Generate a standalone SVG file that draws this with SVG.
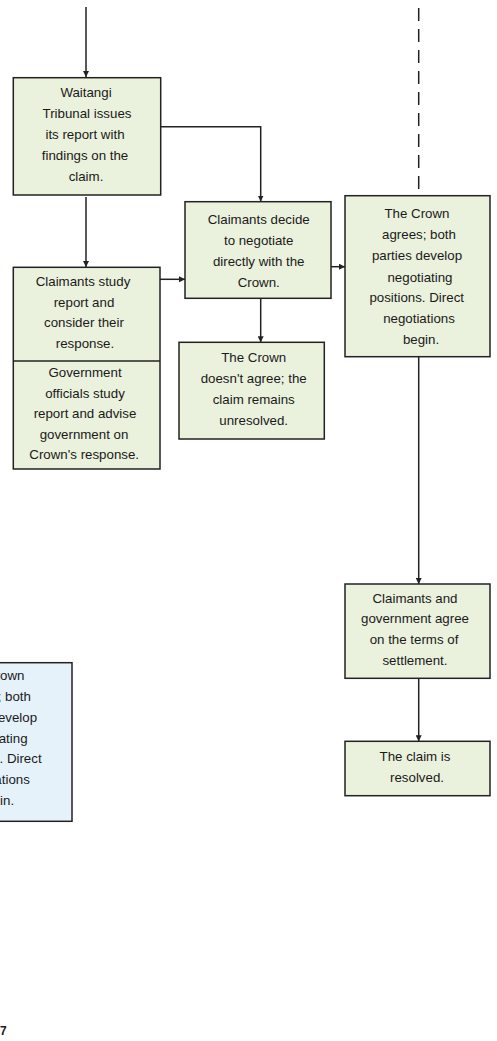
<svg xmlns="http://www.w3.org/2000/svg" width="497" height="1041" viewBox="0 0 497 1041">
<style>
.box{fill:#eaf1dc;stroke:#222;stroke-width:1.5}
.blue{fill:#e6f2fa;stroke:#222;stroke-width:1.5}
text{font-family:"Liberation Sans",Arial,sans-serif;font-size:13.3px;fill:#1a1a1a;text-anchor:middle}
.c{fill:none;stroke:#222;stroke-width:1.5}
.d{fill:none;stroke:#222;stroke-width:1.5;stroke-dasharray:13,8}
</style>
<defs>
<marker id="ah" markerWidth="6" markerHeight="6" refX="6" refY="3" orient="auto" markerUnits="userSpaceOnUse">
<path d="M0,0 L6,3 L0,6 z" fill="#222"/>
</marker>
</defs>
<rect width="497" height="1041" fill="#ffffff"/>
<g id="connectors">
<path class="c" d="M86,7 V77" marker-end="url(#ah)"/>
<path class="c" d="M86,197 V267" marker-end="url(#ah)"/>
<path class="c" d="M160.7,126.7 H260.7 V201.5" marker-end="url(#ah)"/>
<path class="d" d="M418.7,8 V195.7"/>
<path class="c" d="M160,279.3 H185" marker-end="url(#ah)"/>
<path class="c" d="M331,266.7 H345" marker-end="url(#ah)"/>
<path class="c" d="M260.7,298.3 V342.3" marker-end="url(#ah)"/>
<path class="c" d="M418.7,356.7 V584" marker-end="url(#ah)"/>
<path class="c" d="M418.7,678.3 V741.3" marker-end="url(#ah)"/>
</g>
<g id="waitangi">
<rect class="box" x="13.3" y="77.7" width="147.4" height="117.3"/>
<text x="86" y="97">Waitangi</text>
<text x="87" y="118">Tribunal issues</text>
<text x="85" y="139">its report with</text>
<text x="85" y="160">findings on the</text>
<text x="86" y="181">claim.</text>
</g>
<g id="claimants-decide">
<rect class="box" x="185" y="201.7" width="146" height="96.6"/>
<text x="258.7" y="224">Claimants decide</text>
<text x="258.7" y="245">to negotiate</text>
<text x="258.7" y="266">directly with the</text>
<text x="258.7" y="286.7">Crown.</text>
</g>
<g id="crown-agrees">
<rect class="box" x="345" y="195.7" width="145" height="161"/>
<text x="417" y="218.3">The Crown</text>
<text x="419" y="239">agrees; both</text>
<text x="417" y="260">parties develop</text>
<text x="420" y="281.7">negotiating</text>
<text x="416.7" y="302.3">positions. Direct</text>
<text x="419" y="323.3">negotiations</text>
<text x="421" y="344">begin.</text>
</g>
<g id="claimants-study">
<rect class="box" x="13.3" y="267.3" width="146.7" height="201.7"/>
<line x1="13.3" y1="361" x2="160" y2="361" stroke="#222" stroke-width="1.5"/>
<text x="83" y="286">Claimants study</text>
<text x="84" y="306.7">report and</text>
<text x="84" y="327.3">consider their</text>
<text x="85" y="348.3">response.</text>
<text x="85" y="376.7">Government</text>
<text x="85" y="397.7">officials study</text>
<text x="85" y="418.3">report and advise</text>
<text x="84" y="439">government on</text>
<text x="84.2" y="459.3">Crown's response.</text>
</g>
<g id="crown-disagrees">
<rect class="box" x="179" y="342.3" width="145.3" height="96.7"/>
<text x="253.7" y="362.3">The Crown</text>
<text x="253.7" y="382.7">doesn't agree; the</text>
<text x="253.7" y="404">claim remains</text>
<text x="253.7" y="425">unresolved.</text>
</g>
<g id="agree-terms">
<rect class="box" x="345" y="584" width="145" height="94.3"/>
<text x="415" y="602.7">Claimants and</text>
<text x="415" y="623.3">government agree</text>
<text x="414" y="644.3">on the terms of</text>
<text x="415" y="665">settlement.</text>
</g>
<g id="resolved">
<rect class="box" x="345" y="741.3" width="145" height="54.4"/>
<text x="415" y="761">The claim is</text>
<text x="417" y="781.7">resolved.</text>
</g>
<g id="crown-agrees-copy">
<rect class="blue" x="-74" y="662.7" width="146" height="158.6"/>
<text x="-8" y="680">The Crown</text>
<text x="-6" y="700.7">agrees; both</text>
<text x="-8" y="721.7">parties develop</text>
<text x="-5" y="742.7">negotiating</text>
<text x="-5.7" y="763.3">positions. Direct</text>
<text x="-6" y="784">negotiations</text>
<text x="-4" y="805">begin.</text>
</g>
<text x="0" y="1035" style="text-anchor:start;font-size:12px;font-weight:bold">7</text>
</svg>
